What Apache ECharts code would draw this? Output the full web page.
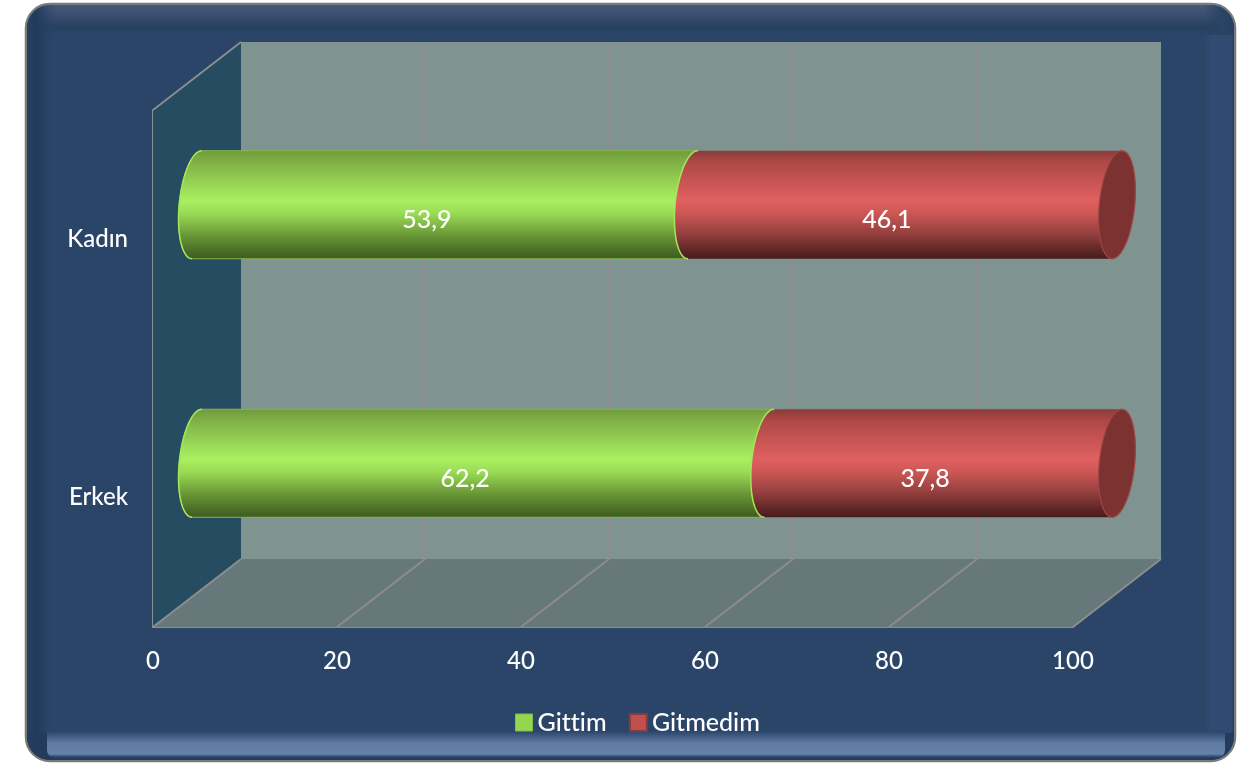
<!DOCTYPE html>
<html><head><meta charset="utf-8">
<style>html,body{margin:0;padding:0;background:#fff}#c{width:1246px;height:763px}</style>
<script src="https://cdn.jsdelivr.net/npm/echarts@6/dist/echarts.min.js"></script>
</head><body><div id="c"></div>
<script>
const categories = ['Erkek', 'Kadın'];
const gittim = [62.2, 53.9];
const gitmedim = [37.8, 46.1];
const gridTicks = [20, 40, 60, 80];
const seriesNames = ['Gittim', 'Gitmedim'];

const FONT = 'Lato';
const DEPTH_X = 88, DEPTH_Y = -68;

// keep "tt" as two separate letters on the canvas (Lato would otherwise join them)
const nativeFillText = CanvasRenderingContext2D.prototype.fillText;
CanvasRenderingContext2D.prototype.fillText = function () {
  this.textRendering = 'optimizeSpeed';
  return nativeFillText.apply(this, arguments);
};

const vg = (stops) => new echarts.graphic.LinearGradient(0, 0, 0, 1, stops.map(c => ({offset: c[0], color: c[1]})));
const hg = (stops) => new echarts.graphic.LinearGradient(0, 0, 1, 0, stops.map(c => ({offset: c[0], color: c[1]})));

const greenFill = [[0,'#6f9b3c'],[0.1,'#7fae45'],[0.46,'#a9f060'],[0.58,'#9adb56'],[0.77,'#6c9a38'],[0.93,'#4a6c27'],[1,'#3d5a20']];
const redFill = [[0,'#8a3c3b'],[0.1,'#ad4846'],[0.46,'#e06060'],[0.58,'#cc5755'],[0.77,'#933f3e'],[0.93,'#5c2625'],[1,'#471c1b']];

function arc(cx, cy, a, b, h, t0, t1) {
  const pts = [];
  for (let i = 0; i <= 40; i++) {
    const t = t0 + (t1 - t0) * i / 40;
    pts.push([cx + a * Math.cos(t) - b * Math.sin(t), cy + h * Math.sin(t)]);
  }
  return pts;
}

function cylinder(fill, edge, withCap) {
  return function (params, api) {
    const v = api.value(0), cat = api.value(1), start = api.value(2);
    const p0 = api.coord([start, cat]), p1 = api.coord([start + v, cat]);
    const band = api.size([0, 1])[1];
    const h = band * 0.209, a = h * 0.33, b = h * 0.09;
    const sx = DEPTH_X / 2, sy = DEPTH_Y / 2;
    const x0 = p0[0] + sx, x1 = p1[0] + sx, cy = p0[1] + sy - 0.5;
    const leftArc = arc(x0, cy, a, b, h, Math.PI * 0.5, Math.PI * 1.5);
    const rightEnd = arc(x1, cy, a, b, h, -Math.PI * 0.5, Math.PI * 0.5);
    const children = [{
      type: 'polygon', shape: {points: leftArc.concat(rightEnd)},
      style: {fill: vg(fill), stroke: edge.body, lineWidth: edge.bodyW}
    }, {
      type: 'polyline', shape: {points: leftArc},
      style: {fill: 'none', stroke: edge.arc, lineWidth: 1.5}
    }];
    if (withCap) {
      children.push({
        type: 'polygon', shape: {points: arc(x1, cy, a, b, h, 0, Math.PI * 2)},
        style: {fill: '#7b3230', stroke: '#a04745', lineWidth: 1.2}
      });
    }
    children.push({
      type: 'text',
      style: {
        x: (p0[0] + p1[0]) / 2 + 26, y: p0[1] - 19,
        text: v.toFixed(1).replace('.', ','),
        fill: '#ffffff', font: '500 25px ' + FONT,
        textAlign: 'center', textVerticalAlign: 'middle'
      }
    });
    return {type: 'group', children};
  };
}

function walls(params, api) {
  const r = params.coordSys;
  const L = r.x, R = r.x + r.width, T = r.y, B = r.y + r.height;
  const dx = DEPTH_X, dy = DEPTH_Y;
  const edge = {stroke: '#8c8f90', lineWidth: 1.8};
  const children = [
    {type: 'polygon', shape: {points: [[L + dx, T + dy], [R + dx, T + dy], [R + dx, B + dy], [L + dx, B + dy]]}, style: {fill: '#7f9491'}},
    {type: 'polygon', shape: {points: [[L, B], [L + dx, B + dy], [R + dx, B + dy], [R, B]]}, style: {fill: '#667879'}},
    {type: 'polygon', shape: {points: [[L, T], [L + dx, T + dy], [L + dx, B + dy], [L, B]]}, style: {fill: '#254c60'}}
  ];
  gridTicks.forEach(t => {
    const x = api.coord([t, 0])[0];
    children.push({type: 'polyline', shape: {points: [[x, B], [x + dx, B + dy], [x + dx, T + dy]]}, style: {fill: 'none', stroke: '#908b8e', lineWidth: 2}});
  });
  children.push(
    {type: 'line', shape: {x1: L, y1: T, x2: L + dx, y2: T + dy}, style: edge},
    {type: 'line', shape: {x1: L, y1: B, x2: L + dx, y2: B + dy}, style: edge},
    {type: 'line', shape: {x1: R, y1: B, x2: R + dx, y2: B + dy}, style: edge}
  );
  return {type: 'group', children};
}

const chart = echarts.init(document.getElementById('c'), null, {renderer: 'canvas'});
chart.setOption({
  animation: false,
  backgroundColor: '#ffffff',
  textStyle: {fontFamily: FONT},
  graphic: {elements: [
    {type: 'rect', z: -10, shape: {x: 26, y: 4, width: 1209, height: 757, r: 24}, style: {fill: '#2b4569', stroke: '#7a7a7a', lineWidth: 2.5}},
    {type: 'rect', z: -9, shape: {x: 27, y: 5, width: 1207, height: 30, r: [23, 23, 0, 0]}, style: {fill: vg([[0,'#48597a'],[0.35,'#3a4f70'],[0.72,'#26405f'],[1,'#2b4569']])}},
    {type: 'rect', z: -8, shape: {x: 1204, y: 35, width: 30, height: 700}, style: {fill: hg([[0,'rgba(47,75,114,0)'],[0.25,'#2f4b72'],[0.92,'#2f4b72'],[1,'#263f60']])}},
    {type: 'rect', z: -8, shape: {x: 1204, y: 5, width: 30, height: 30, r: [0, 23, 0, 0]}, style: {fill: hg([[0,'rgba(39,64,95,0)'],[0.6,'#2a4467'],[1,'#27405f']])}},
    {type: 'rect', z: -8, shape: {x: 27, y: 5, width: 30, height: 755, r: [23, 0, 0, 23]}, style: {fill: hg([[0,'#27405f'],[0.3,'#203a5a'],[1,'rgba(43,69,105,0)']])}},
    {type: 'rect', z: -8, shape: {x: 27, y: 733, width: 1207, height: 27, r: [0, 0, 23, 23]}, style: {fill: '#233b5c'}},
    {type: 'rect', z: -7, shape: {x: 47, y: 731, width: 1178, height: 27, r: [0, 0, 8, 8]}, style: {fill: vg([[0,'#2b4569'],[0.45,'#5f7ba3'],[0.85,'#6682aa'],[0.93,'#3c5478'],[1,'#24395a']])}}
  ]},
  grid: {left: 153, right: 173, top: 110, bottom: 136, containLabel: false},
  legend: {
    left: 515, top: 710, padding: 0, itemWidth: 17, itemHeight: 17, itemGap: 23,
    textStyle: {color: '#ffffff', fontFamily: FONT, fontSize: 25, fontWeight: 500},
    data: [
      {name: seriesNames[0], icon: 'rect', itemStyle: {color: '#94d64e', borderColor: '#84bf46', borderWidth: 1}},
      {name: seriesNames[1], icon: 'rect', itemStyle: {color: '#c0504d', borderColor: '#8c3836', borderWidth: 2}}
    ]
  },
  xAxis: {
    type: 'value', min: 0, max: 100, interval: 20,
    axisLine: {show: true, onZero: false, lineStyle: {color: '#8c8f90', width: 2}},
    axisTick: {show: false}, splitLine: {show: false},
    axisLabel: {color: '#ffffff', fontFamily: FONT, fontWeight: 500, fontSize: 24, margin: 22, showMinLabel: true, showMaxLabel: true}
  },
  yAxis: {
    type: 'category', data: categories,
    axisLine: {show: true, onZero: false, lineStyle: {color: '#8c8f90', width: 2}},
    axisTick: {show: false}, splitLine: {show: false},
    axisLabel: {color: '#ffffff', fontFamily: FONT, fontWeight: 500, fontSize: 24, margin: 25}
  },
  series: [
    {type: 'custom', name: 'walls', silent: true, clip: false, renderItem: walls, data: [[0, 0]], encode: {x: 0, y: 1}, z: 1},
    {type: 'custom', name: seriesNames[0], clip: false, z: 2,
      renderItem: cylinder(greenFill, {body: '#86b94a', bodyW: 1, arc: '#a6e75a'}, false),
      encode: {x: 0, y: 1},
      data: gittim.map((v, i) => [v, i, 0])},
    {type: 'custom', name: seriesNames[1], clip: false, z: 3,
      renderItem: cylinder(redFill, {body: 'rgba(0,0,0,0)', bodyW: 0, arc: '#a6e75a'}, true),
      encode: {x: 0, y: 1},
      data: gitmedim.map((v, i) => [v, i, gittim[i]])}
  ]
});
</script></body></html>
